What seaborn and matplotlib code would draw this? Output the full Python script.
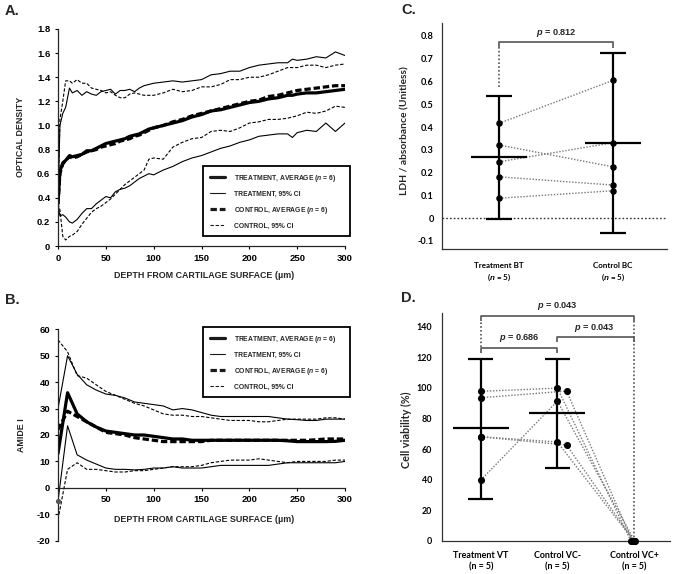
import numpy as np
import pandas as pd
import matplotlib
matplotlib.use("Agg")
import matplotlib.pyplot as plt
import seaborn as sns
from matplotlib.lines import Line2D

# ---------------- Panel A data (optical density vs depth) ----------------
depth_A = [0, 2, 5, 8, 12, 15, 20, 25, 30, 35, 40, 45, 50, 55, 60, 65, 70, 75, 80, 85, 90, 95,
           100, 110, 120, 130, 140, 150, 160, 170, 180, 190, 200, 210, 220, 230, 240, 245, 250,
           260, 270, 280, 290, 300]
treat_avg_A = [0.35, 0.62, 0.69, 0.71, 0.75, 0.74, 0.75, 0.76, 0.79, 0.79, 0.81, 0.83, 0.85, 0.86,
               0.87, 0.88, 0.89, 0.91, 0.92, 0.93, 0.95, 0.97, 0.98, 1.00, 1.02, 1.04, 1.07, 1.09,
               1.12, 1.13, 1.15, 1.17, 1.19, 1.20, 1.22, 1.23, 1.25, 1.25, 1.26, 1.27, 1.27, 1.28,
               1.29, 1.30]
ctrl_avg_A = [0.35, 0.60, 0.68, 0.71, 0.74, 0.73, 0.74, 0.76, 0.78, 0.79, 0.80, 0.82, 0.83, 0.84,
              0.85, 0.87, 0.88, 0.89, 0.91, 0.92, 0.94, 0.96, 0.98, 1.00, 1.03, 1.05, 1.08, 1.10,
              1.12, 1.14, 1.16, 1.18, 1.20, 1.21, 1.24, 1.25, 1.27, 1.28, 1.29, 1.30, 1.31, 1.32,
              1.33, 1.33]
treat_hi_A = [0.35, 1.00, 1.10, 1.15, 1.31, 1.27, 1.29, 1.25, 1.28, 1.26, 1.25, 1.28, 1.29, 1.30,
              1.26, 1.29, 1.29, 1.30, 1.28, 1.31, 1.33, 1.34, 1.35, 1.36, 1.37, 1.36, 1.37, 1.38,
              1.42, 1.43, 1.45, 1.45, 1.48, 1.50, 1.51, 1.52, 1.52, 1.55, 1.54, 1.55, 1.57, 1.56,
              1.61, 1.58]
treat_lo_A = [0.35, 0.25, 0.26, 0.24, 0.20, 0.19, 0.22, 0.27, 0.31, 0.31, 0.35, 0.38, 0.41, 0.40,
              0.45, 0.47, 0.48, 0.50, 0.53, 0.56, 0.58, 0.60, 0.59, 0.63, 0.66, 0.70, 0.73, 0.75,
              0.78, 0.81, 0.83, 0.86, 0.88, 0.91, 0.92, 0.93, 0.93, 0.90, 0.94, 0.96, 0.95, 1.02,
              0.95, 1.02]
ctrl_hi_A = [0.35, 1.05, 1.20, 1.37, 1.37, 1.35, 1.38, 1.35, 1.35, 1.31, 1.30, 1.29, 1.27, 1.28,
             1.25, 1.23, 1.23, 1.26, 1.27, 1.26, 1.25, 1.25, 1.25, 1.27, 1.30, 1.28, 1.29, 1.32,
             1.32, 1.34, 1.38, 1.38, 1.40, 1.40, 1.42, 1.45, 1.48, 1.48, 1.48, 1.50, 1.50, 1.48,
             1.50, 1.51]
ctrl_lo_A = [0.35, 0.30, 0.08, 0.05, 0.08, 0.09, 0.12, 0.18, 0.23, 0.28, 0.31, 0.33, 0.36, 0.39,
             0.43, 0.47, 0.51, 0.54, 0.57, 0.60, 0.63, 0.72, 0.73, 0.72, 0.82, 0.86, 0.89, 0.90,
             0.95, 0.96, 0.95, 0.98, 1.02, 1.03, 1.05, 1.05, 1.06, 1.07, 1.08, 1.11, 1.10, 1.12,
             1.16, 1.15]
xticks_A = [0, 50, 100, 150, 200, 250, 300]
yticks_A = [0, 0.2, 0.4, 0.6, 0.8, 1.0, 1.2, 1.4, 1.6, 1.8]
yticklabels_A = ["0", "0.2", "0.4", "0.6", "0.8", "1.0", "1.2", "1.4", "1.6", "1.8"]

# ---------------- Panel B data (amide I vs depth) ----------------
depth_B = [0, 10, 20, 30, 40, 50, 60, 70, 80, 90, 100, 110, 120, 130, 140, 150, 160, 170, 180,
           190, 200, 210, 220, 230, 240, 250, 260, 270, 280, 290, 300]
treat_avg_B = [13, 36, 28, 25, 23, 21.5, 21, 20.5, 20, 20, 19.5, 19, 18.5, 18.5, 18, 18, 18, 18,
               18, 18, 18, 18, 18, 18, 17.8, 17.5, 17.5, 17.5, 17.5, 17.6, 18]
ctrl_avg_B = [22, 29, 27, 25, 23, 21, 20.5, 20, 19, 18.5, 18, 17.5, 17.5, 17.5, 17.5, 17.5, 18,
              18, 18, 18, 18, 18, 18, 18, 18, 18, 18, 18.2, 18.5, 18.5, 18.5]
treat_hi_B = [30, 50, 43, 39, 37, 35.5, 35, 34, 32.5, 32, 31.5, 31, 29.5, 30, 29.5, 28.5, 27.5,
              27, 27, 27, 27, 27, 27, 26.5, 26, 25.8, 25.5, 25.5, 26, 26, 26]
treat_lo_B = [-5, 23.5, 12.5, 10.5, 9, 7.5, 7, 7, 6.8, 7, 7.5, 7.5, 8, 7.5, 7.5, 7.5, 8, 8.5,
              8.5, 8.5, 8.5, 8.5, 8.5, 9, 9.5, 9.5, 9.5, 9.5, 9.5, 9.5, 10]
ctrl_hi_B = [56, 51.5, 42.5, 41.5, 39, 36.5, 35, 33.5, 32, 31, 29.5, 28, 27.5, 27.5, 27, 27,
             26.5, 26, 25.5, 25.5, 25.5, 25, 25, 25.5, 26, 26, 26, 26, 26.5, 26.5, 26]
ctrl_lo_B = [-12, 7, 9.5, 7, 7, 6.5, 6, 6, 6.5, 6.5, 7, 7.5, 8, 8, 8, 8.5, 9.5, 10, 10.5, 10.5,
             10.5, 11, 10.5, 10, 9.5, 10, 10, 10, 10, 10.5, 10.5]
xticks_B = [50, 100, 150, 200, 250, 300]
yticks_B = [-20, -10, 0, 10, 20, 30, 40, 50, 60]

# ---------------- Panel C data (LDH) ----------------
cats_C = ["Treatment BT\n($\\mathit{n}$ = 5)", "Control BC\n($\\mathit{n}$ = 5)"]
ldh_treat = [0.416, 0.321, 0.247, 0.181, 0.087]
ldh_ctrl = [0.605, 0.225, 0.331, 0.145, 0.120]   # paired with ldh_treat
ldh_mean = [0.268, 0.328]
ldh_ci_lo = [-0.003, -0.067]
ldh_ci_hi = [0.538, 0.724]
yticks_C = [-0.1, 0, 0.1, 0.2, 0.3, 0.4, 0.5, 0.6, 0.7, 0.8]
yticklabels_C = ["-0.1", "0", "0.1", "0.2", "0.3", "0.4", "0.5", "0.6", "0.7", "0.8"]
p_C = "0.812"

# ---------------- Panel D data (cell viability) ----------------
cats_D = ["Treatment VT\n(n = 5)", "Control VC-\n(n = 5)", "Control VC+\n(n = 5)"]
via_vt = [97.8, 93.6, 68.1, 68.1, 39.8]
via_vcm = [99.9, 98.0, 64.7, 62.7, 91.4]
via_vcp = [0, 0, 0, 0, 0]
via_mean = [73.6, 83.4]
via_ci_lo = [27.6, 47.5]
via_ci_hi = [118.9, 118.9]
yticks_D = [0, 20, 40, 60, 80, 100, 120, 140]
p_D = ["0.686", "0.043", "0.043"]

# jitter (layout only)
jit_vt = [0, 0, 0, 0, 0]
jit_vcm = [0, 0.12, 0, 0.12, 0]
jit_vcp = [-0.04, -0.02, 0, 0, 0.01]

# ---------------- style ----------------
sns.set_theme(style="ticks")
plt.rcParams['font.family'] = ['Liberation Sans', 'DejaVu Sans']
plt.rcParams['font.weight'] = 'bold'
plt.rcParams['mathtext.fontset'] = 'custom'
plt.rcParams['mathtext.it'] = 'Liberation Sans:italic:bold'
plt.rcParams['mathtext.rm'] = 'Liberation Sans:bold'
plt.rcParams['mathtext.bf'] = 'Liberation Sans:bold'
plt.rcParams['axes.linewidth'] = 0.9

W, H = 675, 574
def fx(x): return x / W
def fy(y): return 1 - y / H

fig = plt.figure(figsize=(W / 100, H / 100), dpi=100)
fig.patch.set_facecolor('white')

axA = fig.add_axes([fx(58), fy(246), (345 - 58) / W, (246 - 29) / H])
axB = fig.add_axes([fx(58), fy(540.7), (345 - 58) / W, (540.7 - 329.3) / H])
axC = fig.add_axes([fx(442), fy(249), (667 - 442) / W, (249 - 23) / H])
axD = fig.add_axes([fx(442), fy(541), (670 - 442) / W, (541 - 313) / H])

THICK, THIN = 2.3, 0.8
CTRL_AVG_LS = (0, (2, 0.9))
CTRL_CI_LS = (0, (3, 1.6))

def draw_profile(ax, depth, th, tl, ch, cl, ta, ca):
    for vals, lw, ls in [(th, THIN, 'solid'), (tl, THIN, 'solid'),
                         (ch, THIN, CTRL_CI_LS), (cl, THIN, CTRL_CI_LS),
                         (ca, THICK, CTRL_AVG_LS), (ta, THICK, 'solid')]:
        sns.lineplot(x=depth, y=vals, ax=ax, color='black', estimator=None,
                     sort=False, legend=False)
        ln = ax.lines[-1]
        ln.set_linewidth(lw)
        ln.set_linestyle(ls)

def add_legend(ax, top_px):
    handles = [Line2D([], [], color='k', lw=THICK),
               Line2D([], [], color='k', lw=THIN),
               Line2D([], [], color='k', lw=THICK, ls=CTRL_AVG_LS),
               Line2D([], [], color='k', lw=THIN, ls=CTRL_CI_LS)]
    labels = ["TREATMENT, AVERAGE ($\\mathit{n}$ = 6)", "TREATMENT, 95% CI",
              "CONTROL, AVERAGE ($\\mathit{n}$ = 6)", "CONTROL, 95% CI"]
    leg = ax.legend(handles, labels, loc='upper left',
                    bbox_to_anchor=(fx(203), fy(top_px + 66), 147 / W, 66 / H),
                    bbox_transform=fig.transFigure, mode='expand', borderaxespad=0,
                    prop={'family': 'Liberation Sans', 'weight': 'bold', 'size': 4.9},
                    handlelength=2.2, handletextpad=1.3, labelspacing=1.02,
                    borderpad=1.0, fancybox=False, frameon=True)
    fr = leg.get_frame()
    fr.set_edgecolor('black')
    fr.set_linewidth(1.3)
    fr.set_alpha(1)

TICK_FS = 6.8

# ---- Panel A ----
draw_profile(axA, depth_A, treat_hi_A, treat_lo_A, ctrl_hi_A, ctrl_lo_A, treat_avg_A, ctrl_avg_A)
axA.set_xlim(0, 300)
axA.set_ylim(0, 1.8)
axA.set_xticks(xticks_A)
axA.set_xticklabels([str(t) for t in xticks_A])
axA.set_yticks(yticks_A)
axA.set_yticklabels(yticklabels_A)
sns.despine(ax=axA)
axA.tick_params(labelsize=TICK_FS, length=2.5, width=0.8, pad=3, colors='black')
axA.set_xlabel("")
axA.set_ylabel("")
add_legend(axA, 166)

# ---- Panel B ----
draw_profile(axB, depth_B, treat_hi_B, treat_lo_B, ctrl_hi_B, ctrl_lo_B, treat_avg_B, ctrl_avg_B)
sns.scatterplot(x=depth_B[:1], y=treat_lo_B[:1], ax=axB, color='#555555', s=14,
                linewidth=0, zorder=6, clip_on=False, legend=False)
axB.set_xlim(0, 300)
axB.set_ylim(-20, 60)
axB.set_xticks(xticks_B)
axB.set_xticklabels([str(t) for t in xticks_B])
axB.set_yticks(yticks_B)
axB.set_yticklabels([str(t) for t in yticks_B])
sns.despine(ax=axB)
axB.spines['bottom'].set_position(('data', 0))
axB.tick_params(labelsize=TICK_FS, length=2.5, width=0.8, pad=3, colors='black')
axB.set_xlabel("")
axB.set_ylabel("")
add_legend(axB, 327)

# axis titles A/B
fig.text(fx(204), fy(276), "DEPTH FROM CARTILAGE SURFACE (µm)", ha='center', va='center',
         fontsize=6.4, fontweight='bold')
fig.text(fx(204), fy(520), "DEPTH FROM CARTILAGE SURFACE (µm)", ha='center', va='center',
         fontsize=6.4, fontweight='bold')
fig.text(fx(21), fy(137), "OPTICAL DENSITY", ha='center', va='center', rotation=90,
         fontsize=6.4, fontweight='bold')
fig.text(fx(21), fy(435), "AMIDE I", ha='center', va='center', rotation=90,
         fontsize=6.4, fontweight='bold')

# ---------------- Panel C ----------------
CAT_FONT = 'Lato'
PAIR_KW = dict(color='#777777', lw=1.0, ls=(0, (1, 1.2)), zorder=2)
BRK_KW = dict(color='#555555', lw=1.2, solid_capstyle='butt', zorder=3)
ERR_LW = 1.6

def mean_ci(ax, i, m, lo, hi, mw, cw):
    ax.vlines(i, lo, hi, color='black', lw=ERR_LW, zorder=3)
    ax.hlines([lo, hi], i - cw, i + cw, color='black', lw=ERR_LW, zorder=3)
    ax.hlines(m, i - mw, i + mw, color='black', lw=ERR_LW, zorder=3)

axC.axhline(0, color='#333333', lw=1.0, ls=(0, (1.2, 1.5)), zorder=1)
for a, b in zip(ldh_treat, ldh_ctrl):
    axC.plot([0, 1], [a, b], **PAIR_KW)
for i in range(2):
    mean_ci(axC, i, ldh_mean[i], ldh_ci_lo[i], ldh_ci_hi[i], 0.245, 0.11)
dfC = pd.DataFrame({'x': [0] * 5 + [1] * 5, 'y': ldh_treat + ldh_ctrl})
sns.scatterplot(data=dfC, x='x', y='y', ax=axC, color='black', s=22, linewidth=0,
                zorder=5, legend=False)
# bracket
axC.plot([0, 0], [0.576, 0.747], color='#555555', lw=1.2, ls=(0, (1, 1.3)), zorder=3)
axC.plot([0, 0, 1, 1], [0.747, 0.772, 0.772, 0.747], **BRK_KW)
axC.text(0.5, 0.813, "$\\mathit{p}$ = " + p_C, ha='center', va='center', fontsize=6.6,
         fontweight='bold')
axC.set_xlim(-0.5, 1.474)
axC.set_ylim(-0.136, 0.857)
axC.set_xticks([0, 1])
axC.set_xticklabels(cats_C, family=CAT_FONT, fontsize=5.8, fontweight='bold', linespacing=1.3)
axC.set_yticks(yticks_C)
axC.set_yticklabels(yticklabels_C, family=CAT_FONT, fontsize=6.6, fontweight='bold')
axC.tick_params(axis='x', length=0, pad=9.5, colors='black')
axC.tick_params(axis='y', length=0, pad=6, colors='black')
sns.despine(ax=axC)
for s in ['left', 'bottom']:
    axC.spines[s].set_color('#333333')
axC.set_xlabel("")
axC.set_ylabel("")
fig.text(fx(405), fy(131), "LDH / absorbance (Unitless)", ha='center', va='center',
         rotation=90, fontsize=7.4, fontweight='bold', family=CAT_FONT)

# ---------------- Panel D ----------------
x_vt = [0 + j for j in jit_vt]
x_vcm = [1 + j for j in jit_vcm]
x_vcp = [2 + j for j in jit_vcp]
for a, b, xa, xb in zip(via_vt, via_vcm, x_vt, x_vcm):
    axD.plot([xa, xb], [a, b], **PAIR_KW)
for a, b, xa, xb in zip(via_vcm, via_vcp, x_vcm, x_vcp):
    axD.plot([xa, xb], [a, b], **PAIR_KW)
for i in range(2):
    mean_ci(axD, i, via_mean[i], via_ci_lo[i], via_ci_hi[i], 0.364, 0.162)
dfD = pd.DataFrame({'x': x_vt + x_vcm + x_vcp, 'y': via_vt + via_vcm + via_vcp})
sns.scatterplot(data=dfD, x='x', y='y', ax=axD, color='black', s=26, linewidth=0,
                zorder=5, legend=False, clip_on=False)
# brackets
DOT_KW = dict(color='#555555', lw=1.2, ls=(0, (1, 1.3)), zorder=3)
axD.plot([0, 0], [127, 143.8], **DOT_KW)
axD.plot([2, 2], [0, 143.8], **DOT_KW)
axD.plot([0, 0, 2, 2], [143.8, 147, 147, 143.8], **BRK_KW)
axD.plot([0, 0, 1, 1], [122.8, 126.3, 126.3, 122.8], **BRK_KW)
axD.plot([1, 1, 2, 2], [130, 133.4, 133.4, 130], **BRK_KW)
for xt, yt, pv in [(0.506, 132.6, p_D[0]), (1.48, 139.3, p_D[1]), (1.0, 153.7, p_D[2])]:
    axD.text(xt, yt, "$\\mathit{p}$ = " + pv, ha='center', va='center', fontsize=6.6,
             fontweight='bold', clip_on=False)
axD.set_xlim(-0.506, 2.47)
axD.set_ylim(0, 149)
axD.set_xticks([0, 1, 2])
axD.set_xticklabels(cats_D, family=CAT_FONT, fontsize=6.4, fontweight='bold', linespacing=1.3)
axD.set_yticks(yticks_D)
axD.set_yticklabels([str(t) for t in yticks_D], family=CAT_FONT, fontsize=6.4,
                    fontweight='bold')
axD.tick_params(axis='x', length=0, pad=7.5, colors='black')
axD.tick_params(axis='y', length=0, pad=7, colors='black')
sns.despine(ax=axD)
for s in ['left', 'bottom']:
    axD.spines[s].set_color('#333333')
axD.set_xlabel("")
axD.set_ylabel("")
fig.text(fx(406), fy(430), "Cell viability (%)", ha='center', va='center',
         rotation=90, fontsize=7.8, fontweight='bold', family=CAT_FONT)

# panel letters
for x, y, t in [(5, 11, "A."), (5, 300, "B."), (401, 10, "C."), (401, 298, "D.")]:
    fig.text(fx(x), fy(y), t, ha='left', va='center', fontsize=10.5, fontweight='bold')

fig.savefig("out.png", dpi=100, facecolor='white')
